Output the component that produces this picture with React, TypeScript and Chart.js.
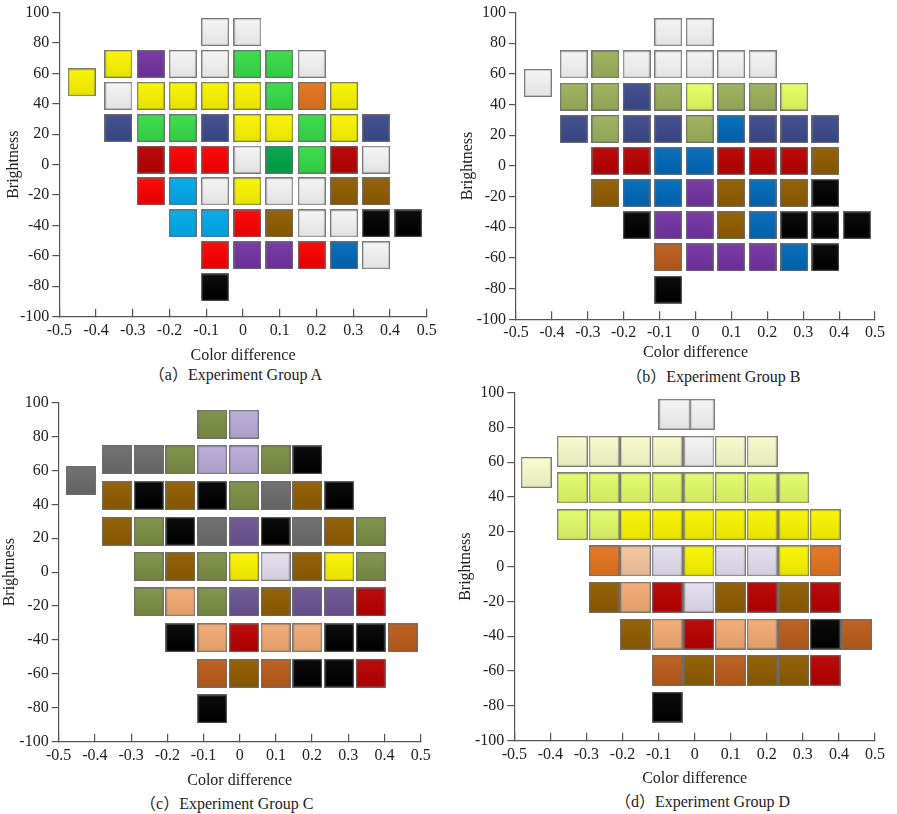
import React, { useEffect, useRef } from 'react';
import { Chart, registerables } from 'chart.js';

Chart.register(...registerables);

// ---------------- data ----------------
const xTickValues = [-0.5, -0.4, -0.3, -0.2, -0.1, 0, 0.1, 0.2, 0.3, 0.4, 0.5];
const xTickLabels = ['-0.5', '-0.4', '-0.3', '-0.2', '-0.1', '0', '0.1', '0.2', '0.3', '0.4', '0.5'];
const yTickValues = [-100, -80, -60, -40, -20, 0, 20, 40, 60, 80, 100];
const yTickLabels = ['-100', '-80', '-60', '-40', '-20', '0', '20', '40', '60', '80', '100'];

// color-difference position of each grid column
const columnX = [-0.339, -0.251, -0.164, -0.076, 0.012, 0.099, 0.187, 0.275, 0.362, 0.45];
// brightness of each grid row (top to bottom)
const rowY = [87.2, 66.2, 45.2, 24.1, 3.3, -17.6, -38.7, -59.6, -80.7];
// first occupied column of each row
const rowStartColumn = [3, 0, 0, 0, 1, 1, 2, 3, 3];
// the isolated sample on the left
const outlierX = -0.439;
const outlierY = 54.1;
// group D top row has its own positions
const groupDTopX = [-0.056, 0.021];
const groupDTopY = 87.5;

const groupARows = [
  'W W',
  'Y P W W G G W',
  'W Y Y Y Y G O Y',
  'N G G N Y Y G Y N',
  'DR R R W DG G DR W',
  'R SB W Y W W BR BR',
  'SB SB R BR W W K K',
  'R P P R BL W',
  'K',
];
const groupAOutlier = 'Y';

const groupBRows = [
  'W W',
  'W OL W W W W W',
  'OL OL N OL LY OL OL LY',
  'N OL N N OL BL N N N',
  'DR DR BL BL DR DR DR BR',
  'BR BL BL P BR BL BR K',
  'K P P BR BL K K K',
  'OB P P P BL K',
  'K',
];
const groupBOutlier = 'W';

const groupCRows = [
  'OC LV',
  'GR GR OC LV LV OC K',
  'BR K BR K OC GR BR K',
  'BR OC K GR PU K GR BR OC',
  'OC BR OC Y LL BR Y OC',
  'OC PE OC PU BR PU PU DR',
  'K PE DR PE PE K K OB',
  'OB BR OB K K DR',
  'K',
];
const groupCOutlier = 'GR';

const groupDRows = [
  'W W',
  'CR CR CR CR W CR CR',
  'LM LM LM LM LM LM LM LM',
  'LM LM Y Y Y Y Y Y Y',
  'O LP LL Y LL LL Y O',
  'BR PE DR LL BR DR BR DR',
  'BR PE DR PE PE OB K OB',
  'OB BR OB BR BR DR',
  'K',
];
const groupDOutlier = 'CR';

// ---------------- styles ----------------
const palette: Record<string, string> = {
  W: '#f6f6f6',
  Y: '#fbf500',
  P: '#7333a3',
  G: '#36dc48',
  O: '#e4741f',
  N: '#3b4b8b',
  R: '#fa0000',
  DR: '#b80000',
  DG: '#00a448',
  SB: '#00aaea',
  BR: '#8f5c00',
  BL: '#0068b8',
  K: '#000000',
  OL: '#9db15c',
  LY: '#e6ff60',
  OB: '#bb5c1a',
  GR: '#6c6c6c',
  OC: '#7d8f46',
  LV: '#b9addb',
  PU: '#6c5494',
  LL: '#e5dff0',
  PE: '#f2ab73',
  CR: '#f9fdcc',
  LM: '#e3fb6c',
  LP: '#f6c59f',
};

const FONT = "'Liberation Serif', 'Times New Roman', Tinos, serif";
const TEXT = '#222222';
const AXIS = '#555555';

const groupDTopWidths = [32, 25];

type PanelCfg = {
  rows: string[];
  outlier: string;
  left: number; top: number; w: number; h: number;
  padL: number; padT: number; padR: number;
  yW: number; xH: number;
  tileW: number; tileH: number;
  caption: string; capX: number; capY: number;
  special?: boolean;
};

const panels: PanelCfg[] = [
  { rows: groupARows, outlier: groupAOutlier, left: 0, top: 0, w: 450, h: 365, padL: 4.4, padT: 10.7, padR: 23.3, yW: 54.9, xH: 48.3, tileW: 28, tileH: 28, caption: '（a）Experiment Group A', capX: 235.5, capY: 375 },
  { rows: groupBRows, outlier: groupBOutlier, left: 450, top: 0, w: 447, h: 362, padL: 7.7, padT: 12, padR: 13, yW: 58.3, xH: 42.7, tileW: 28, tileH: 28, caption: '（b）Experiment Group B', capX: 713.3, capY: 376.7 },
  { rows: groupCRows, outlier: groupCOutlier, left: 0, top: 390, w: 450, h: 400, padL: 0.4, padT: 11.3, padR: 29.3, yW: 58.3, xH: 48.3, tileW: 30, tileH: 29, caption: '（c）Experiment Group C', capX: 226.7, capY: 804.3 },
  { rows: groupDRows, outlier: groupDOutlier, left: 450, top: 380, w: 447, h: 408, padL: 6.4, padT: 12, padR: 11.7, yW: 57.9, xH: 47.3, tileW: 31, tileH: 31, caption: '（d）Experiment Group D', capX: 702.5, capY: 801.7, special: true },
];

function shade(hex: string, amt: number): string {
  const n = parseInt(hex.slice(1), 16);
  const r = (n >> 16) & 255, g = (n >> 8) & 255, b = n & 255;
  const f = (c: number) => {
    const v = amt >= 0 ? c + (255 - c) * amt : c * (1 + amt);
    return Math.max(0, Math.min(255, Math.round(v)));
  };
  return `rgb(${f(r)},${f(g)},${f(b)})`;
}

const tileCache: Record<string, HTMLCanvasElement> = {};
function tile(color: string, w: number, h: number): HTMLCanvasElement {
  const key = `${color}-${w}-${h}`;
  if (tileCache[key]) return tileCache[key];
  const c = document.createElement('canvas');
  c.width = w;
  c.height = h;
  const ctx = c.getContext('2d')!;
  const g = ctx.createLinearGradient(0, 0, 0, h);
  g.addColorStop(0, shade(color, 0.05));
  g.addColorStop(1, shade(color, -0.08));
  ctx.fillStyle = g;
  ctx.fillRect(0, 0, w, h);
  ctx.strokeStyle = 'rgba(110,110,110,0.9)';
  ctx.lineWidth = 1.3;
  ctx.strokeRect(0.65, 0.65, w - 1.3, h - 1.3);
  tileCache[key] = c;
  return c;
}

function Panel({ cfg }: { cfg: PanelCfg }) {
  const ref = useRef<HTMLCanvasElement>(null);
  useEffect(() => {
    let chart: Chart | null = null;
    let cancelled = false;
    const build = () => {
      if (cancelled || !ref.current) return;
      const pts: { x: number; y: number }[] = [];
      const styles: HTMLCanvasElement[] = [];
      cfg.rows.forEach((row, r) => {
        const keys = row.split(' ');
        keys.forEach((k, i) => {
          if (cfg.special && r === 0) {
            pts.push({ x: groupDTopX[i], y: groupDTopY });
            styles.push(tile(palette[k], groupDTopWidths[i], cfg.tileH));
          } else {
            pts.push({ x: columnX[rowStartColumn[r] + i], y: rowY[r] });
            styles.push(tile(palette[k], cfg.tileW, cfg.tileH));
          }
        });
      });
      pts.push({ x: outlierX, y: outlierY });
      styles.push(tile(palette[cfg.outlier], cfg.tileW, cfg.tileH));

      const tickFont = { family: FONT, size: 16 };
      const titleFont = { family: FONT, size: 16 };
      chart = new Chart(ref.current, {
        type: 'scatter',
        data: {
          datasets: [
            {
              data: pts,
              pointStyle: styles as any,
              pointRadius: 2,
              pointHoverRadius: 2,
              clip: false as any,
            },
          ],
        },
        options: {
          animation: false,
          responsive: false,
          devicePixelRatio: 1,
          events: [],
          font: { family: FONT },
          layout: { padding: { left: cfg.padL, top: cfg.padT, right: cfg.padR, bottom: 0 } },
          plugins: { legend: { display: false }, tooltip: { enabled: false } },
          scales: {
            x: {
              type: 'linear',
              position: 'bottom',
              min: -0.5,
              max: 0.5,
              afterBuildTicks: (s: any) => {
                s.ticks = xTickValues.map((v) => ({ value: v }));
              },
              afterFit: (s: any) => {
                s.height = cfg.xH;
              },
              ticks: {
                autoSkip: false,
                maxRotation: 0,
                padding: 12,
                color: TEXT,
                font: tickFont,
                callback: (_v: any, i: number) => xTickLabels[i],
              },
              grid: { drawOnChartArea: false, drawTicks: true, tickLength: -8, color: AXIS, lineWidth: 1.2 },
              border: { display: true, color: AXIS, width: 1.2 },
              title: { display: true, text: 'Color difference', color: TEXT, font: titleFont, padding: 0 },
            },
            y: {
              type: 'linear',
              position: 'left',
              min: -100,
              max: 100,
              afterBuildTicks: (s: any) => {
                s.ticks = yTickValues.map((v) => ({ value: v }));
              },
              afterFit: (s: any) => {
                s.width = cfg.yW;
              },
              ticks: {
                autoSkip: false,
                padding: 3,
                color: TEXT,
                font: tickFont,
                callback: (_v: any, i: number) => yTickLabels[i],
              },
              grid: { drawOnChartArea: false, drawTicks: true, tickLength: 7, color: AXIS, lineWidth: 1.2 },
              border: { display: true, color: AXIS, width: 1.2 },
              title: { display: true, text: 'Brightness', color: TEXT, font: titleFont, padding: 0 },
            },
          },
        } as any,
      });
    };
    const fonts = (document as any).fonts;
    if (fonts && fonts.load) {
      fonts.load("16px 'Liberation Serif'").then(build, build);
    } else {
      build();
    }
    return () => {
      cancelled = true;
      if (chart) chart.destroy();
    };
  }, [cfg]);

  return (
    <>
      <div style={{ position: 'absolute', left: cfg.left, top: cfg.top, width: cfg.w, height: cfg.h }}>
        <canvas ref={ref} width={cfg.w} height={cfg.h} style={{ display: 'block', width: cfg.w, height: cfg.h }} />
      </div>
      <div
        style={{
          position: 'absolute',
          left: cfg.capX - 160,
          top: cfg.capY - 10,
          width: 320,
          height: 20,
          lineHeight: '20px',
          textAlign: 'center',
          fontFamily: "'Liberation Serif', 'Noto Sans CJK SC', serif",
          fontSize: 16,
          color: TEXT,
          whiteSpace: 'nowrap',
        }}
      >
        {cfg.caption}
      </div>
    </>
  );
}

export default function App() {
  return (
    <div style={{ position: 'absolute', left: 0, top: 0, width: 897, height: 814, background: '#ffffff', overflow: 'hidden', fontFamily: "'Liberation Serif', serif" }}>
      {panels.map((p, i) => (
        <Panel key={i} cfg={p} />
      ))}
    </div>
  );
}
